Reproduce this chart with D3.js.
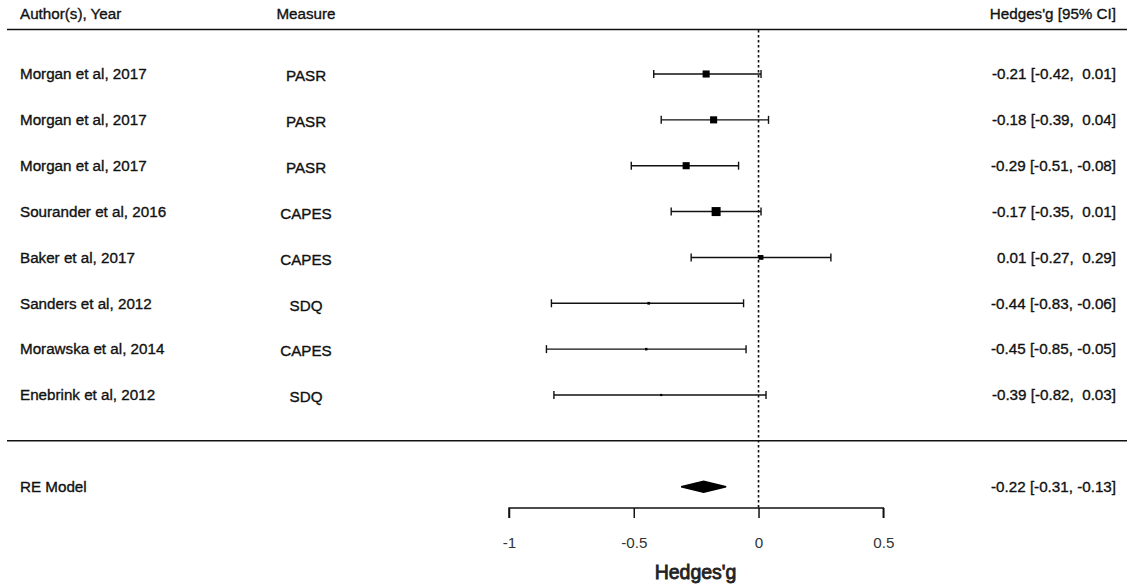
<!DOCTYPE html>
<html>
<head>
<meta charset="utf-8">
<script src="https://cdn.jsdelivr.net/npm/d3@7"></script>
<style>
  html, body { margin: 0; padding: 0; background: #fff; }
  svg text { font-family: "Liberation Sans", Arial, sans-serif; fill: #111; stroke: #111; stroke-width: 0.35px; }
</style>
</head>
<body>
<svg id="chart" width="1127" height="585"></svg>
<script>
// ---- data ----
const authors = ["Morgan et al, 2017", "Morgan et al, 2017", "Morgan et al, 2017",
  "Sourander et al, 2016", "Baker et al, 2017", "Sanders et al, 2012",
  "Morawska et al, 2014", "Enebrink et al, 2012"];
const measures = ["PASR", "PASR", "PASR", "CAPES", "CAPES", "SDQ", "CAPES", "SDQ"];
const estimates = [-0.21, -0.18, -0.29, -0.17, 0.01, -0.44, -0.45, -0.39];
const ciLower = [-0.42, -0.39, -0.51, -0.35, -0.27, -0.83, -0.85, -0.82];
const ciUpper = [0.01, 0.04, -0.08, 0.01, 0.29, -0.06, -0.05, 0.03];
const summaryLabel = "RE Model";
const summaryEst = -0.22, summaryLo = -0.31, summaryHi = -0.13;
const headers = ["Author(s), Year", "Measure", "Hedges'g [95% CI]"];
const xTicks = [-1, -0.5, 0, 0.5];
const xTitle = "Hedges'g";

// ---- layout ----
const svg = d3.select("#chart");
const W = 1127;
const x = d3.scaleLinear().domain([-1, 0.5]).range([509, 883.3]);
const k = estimates.length;
// row index: top study = k, bottom study = 1, summary = -1
const y = d3.scaleLinear().domain([k, 1]).range([74, 395]);
const fs = 15.2;

const se = estimates.map((d, i) => (ciUpper[i] - ciLower[i]) / 3.92);
const prec = se.map(s => 1 / s);
const size = d3.scaleLinear().domain(d3.extent(prec)).range([2.2, 9]);

const ciText = (e, l, u) => {
  const es = (e < 0 ? "-" : "") + Math.abs(e).toFixed(2);
  const ls = (l < 0 ? "-" : "") + Math.abs(l).toFixed(2);
  const us = (u < 0 ? "-" : "") + Math.abs(u).toFixed(2);
  return `${es} [${ls}, ${u < 0 ? "" : "\u00a0"}${us}]`;
};

// horizontal rules
svg.append("line").attr("x1", 7).attr("x2", W).attr("y1", 29.5).attr("y2", 29.5)
  .attr("stroke", "#111").attr("stroke-width", 1.5);
svg.append("line").attr("x1", 7).attr("x2", W).attr("y1", y(0)).attr("y2", y(0))
  .attr("stroke", "#111").attr("stroke-width", 1.5);

// reference line at 0
const axisY = 508;
svg.append("line").attr("x1", x(0)).attr("x2", x(0)).attr("y1", 30).attr("y2", axisY)
  .attr("stroke", "#111").attr("stroke-width", 1.6).attr("stroke-dasharray", "2.5,2.5");

// headers
svg.append("text").attr("x", 20).attr("y", 14).attr("dy", "0.35em")
  .attr("font-size", fs).text(headers[0]);
svg.append("text").attr("x", 306).attr("y", 14).attr("dy", "0.35em").attr("text-anchor", "middle")
  .attr("font-size", fs).text(headers[1]);
svg.append("text").attr("x", 1116).attr("y", 14).attr("dy", "0.35em").attr("text-anchor", "end")
  .attr("font-size", fs).text(headers[2]);

// study rows
const rows = svg.append("g").selectAll("g").data(estimates).join("g")
  .attr("transform", (d, i) => `translate(0,${y(k - i)})`);

rows.append("text").attr("x", 20).attr("dy", "0.35em").attr("font-size", fs)
  .text((d, i) => authors[i]);
rows.append("text").attr("x", 306).attr("y", 2).attr("dy", "0.35em").attr("text-anchor", "middle")
  .attr("font-size", fs).text((d, i) => measures[i]);
rows.append("text").attr("x", 1116).attr("dy", "0.35em").attr("text-anchor", "end")
  .attr("font-size", fs)
  .text((d, i) => ciText(d, ciLower[i], ciUpper[i]));

rows.append("line").attr("x1", (d, i) => x(ciLower[i])).attr("x2", (d, i) => x(ciUpper[i]))
  .attr("stroke", "#111").attr("stroke-width", 1.4);
rows.append("line").attr("x1", (d, i) => x(ciLower[i])).attr("x2", (d, i) => x(ciLower[i]))
  .attr("y1", -4).attr("y2", 4).attr("stroke", "#111").attr("stroke-width", 1.4);
rows.append("line").attr("x1", (d, i) => x(ciUpper[i])).attr("x2", (d, i) => x(ciUpper[i]))
  .attr("y1", -4).attr("y2", 4).attr("stroke", "#111").attr("stroke-width", 1.4);
rows.append("rect")
  .attr("x", (d, i) => x(d) - size(prec[i]) / 2)
  .attr("y", (d, i) => -size(prec[i]) / 2)
  .attr("width", (d, i) => size(prec[i]))
  .attr("height", (d, i) => Math.max(2, size(prec[i])))
  .attr("fill", "#000");

// summary row
const sy = y(-1);
svg.append("text").attr("x", 20).attr("y", sy).attr("dy", "0.35em").attr("font-size", fs)
  .text(summaryLabel);
svg.append("text").attr("x", 1116).attr("y", sy).attr("dy", "0.35em").attr("text-anchor", "end")
  .attr("font-size", fs)
  .text(ciText(summaryEst, summaryLo, summaryHi));
svg.append("polygon")
  .attr("points", [[x(summaryLo), sy], [x(summaryEst), sy - 5.5], [x(summaryHi), sy], [x(summaryEst), sy + 5.5]]
    .map(p => p.join(",")).join(" "))
  .attr("fill", "#000").attr("stroke", "#000").attr("stroke-width", 1.5);

// x axis
const axis = d3.axisBottom(x).tickValues(xTicks).tickSize(10).tickPadding(19)
  .tickFormat(d => d === 0 ? "0" : String(d));
const ag = svg.append("g").attr("transform", `translate(0,${axisY})`).call(axis);
ag.select(".domain").attr("d", `M${x(-1)},10V0H${x(0.5)}V10`).attr("stroke", "#111").attr("stroke-width", 1.5);
ag.selectAll(".tick line").attr("stroke", "#111").attr("stroke-width", 1.5);
ag.selectAll(".tick text").attr("font-size", fs).attr("font-family", "Liberation Sans, Arial, sans-serif")
  .style("fill", "#333").style("stroke", "none");

svg.append("text").attr("x", x(0) - 63).attr("y", 572).attr("dy", "0.35em").attr("text-anchor", "middle")
  .attr("font-size", 19.5).style("fill", "#222").style("stroke", "#222").style("stroke-width", "0.8px").text(xTitle);
</script>
</body>
</html>
